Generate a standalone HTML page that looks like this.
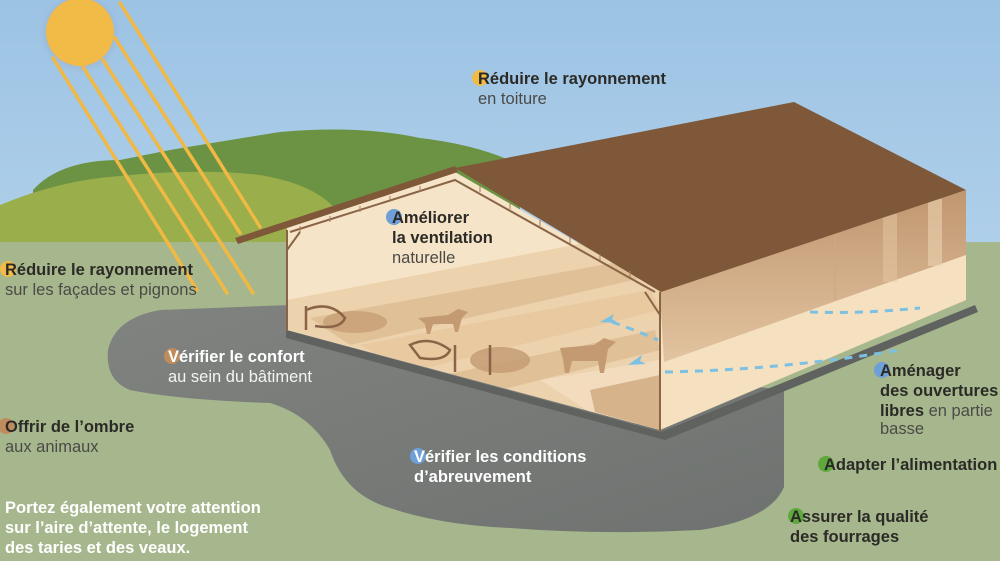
<!DOCTYPE html>
<html><head><meta charset="utf-8"><style>
html,body{margin:0;padding:0;width:1000px;height:561px;overflow:hidden}
svg{display:block}
text{font-family:"Liberation Sans",sans-serif;font-size:16.5px}
.b{font-weight:bold;fill:#2b2a26}
.n{fill:#4a4a46}
.w{font-weight:bold;fill:#fff}
.wn{fill:#f4f4f0}
</style></head><body>
<svg width="1000" height="561" viewBox="0 0 1000 561" xmlns="http://www.w3.org/2000/svg">
<defs>
<linearGradient id="sky" x1="0" y1="0" x2="0" y2="1"><stop offset="0" stop-color="#9cc3e4"/><stop offset="1" stop-color="#c7dff0"/></linearGradient>
<radialGradient id="glow"><stop offset="0.6" stop-color="#8a8aa8" stop-opacity="0.6"/><stop offset="1" stop-color="#a0b8d8" stop-opacity="0"/></radialGradient>
<linearGradient id="side" x1="0" y1="0" x2="0" y2="1"><stop offset="0" stop-color="#c09670"/><stop offset="1" stop-color="#e2c4a0"/></linearGradient>
<linearGradient id="blob" x1="0" y1="0" x2="1" y2="1"><stop offset="0" stop-color="#80837f"/><stop offset="1" stop-color="#6f7270"/></linearGradient>
<clipPath id="gab"><path d="M287,228 L455,172 L660,290 L660,430 L287,330 Z"/></clipPath>
</defs>
<rect width="1000" height="561" fill="url(#sky)"/>
<rect y="242" width="1000" height="319" fill="#a7b78d"/>
<!-- hills -->
<path d="M33,242 L33,190 Q60,160 120,160 L170,150 Q230,140 280,132 Q360,125 420,138 Q480,145 520,165 L520,242 Z" fill="#6b9343"/>
<path d="M0,242 L0,205 Q60,180 120,176 Q200,168 260,175 Q320,185 340,215 L345,242 Z" fill="#9aae4b"/>
<!-- blob -->
<path d="M290,305 L160,310 Q115,318 108,350 Q105,380 130,390 Q180,400 270,403 Q310,415 330,450 Q345,495 390,508 Q440,525 510,528 Q600,535 700,530 Q770,520 784,487 L784,390 L700,380 L300,305 Z" fill="url(#blob)"/>
<!-- sun -->
<circle cx="80" cy="33" r="42" fill="url(#glow)"/>
<circle cx="80" cy="32" r="34" fill="#f2bb48"/>
<g stroke="#f1b843" stroke-width="3.5" stroke-linecap="round">
<line x1="53" y1="58" x2="197" y2="290"/>
<line x1="83" y1="67" x2="227" y2="293"/>
<line x1="103" y1="60" x2="253" y2="293"/>
<line x1="115" y1="38" x2="240" y2="233"/>
<line x1="120" y1="3" x2="260" y2="227"/>
</g>
<!-- barn shadow base -->
<path d="M286,330 L661,432 L975,305 L978,312 L665,440 L286,338 Z" fill="#5f625f"/>
<!-- gable interior -->
<path d="M287,228 L455,172 L660,290 L660,430 L287,330 Z" fill="#f6e4c8"/>
<g clip-path="url(#gab)">
<path d="M287,300 L600,240 L660,270 L660,430 L287,330 Z" fill="#ecd2ad"/>
<path d="M310,318 L640,258 L655,275 L350,345 Z" fill="#dcbb91" opacity="0.8"/>
<path d="M360,345 L650,290 L660,310 L410,372 Z" fill="#e8c9a0"/>
<path d="M430,378 L655,330 L660,350 L480,395 Z" fill="#dcbb91" opacity="0.8"/>
<path d="M540,380 L660,360 L660,430 L590,412 Z" fill="#f3dcbd"/>
<path d="M590,390 L660,375 L660,430 L595,412 Z" fill="#d6b38a"/>
</g>
<!-- side wall -->
<path d="M660,292 L966,190 L966,300 L660,430 Z" fill="#f5e0c0"/>
<path d="M660,292 L966,190 L966,255 L664,362 Z" fill="url(#side)"/>
<path d="M835,233 L835,300" stroke="#cfa981" stroke-width="2" opacity="0.6"/>
<path d="M890,214 L890,282" stroke="#e6c9a4" stroke-width="14" opacity="0.5"/>
<path d="M935,199 L935,266" stroke="#ecd3b2" stroke-width="14" opacity="0.6"/>
<!-- roof -->
<path d="M455,168 L794,102 L966,190 L661,292 Z" fill="#7e5838"/>
<path d="M235,238 L455,166 L458,172 L238,244 Z" fill="#7e5838"/>
<!-- frame -->
<g stroke="#8a6446" stroke-width="2" fill="none">
<path d="M287,230 L287,330"/><path d="M660,292 L660,432"/>
<path d="M290,232 L455,180 L655,292"/>
<path d="M287,250 L300,232"/><path d="M660,315 L645,292"/>
</g>
<g stroke="#a57c5a" stroke-width="1">
<path d="M300,226 l0,6 M330,216 l0,6 M360,206 l0,6 M390,196 l0,6 M420,186 l0,6 M480,186 l0,6 M510,203 l0,6 M540,220 l0,6 M570,237 l0,6 M600,254 l0,6 M630,271 l0,6"/>
</g>
<!-- cows -->
<g fill="#c39a72">
<ellipse cx="355" cy="322" rx="32" ry="11" opacity="0.7"/>
<path d="M418,318 l30,-3 l10,-6 l10,3 l-6,6 l-4,14 l-3,0 l-2,-8 l-20,0 l-3,10 l-3,0 l-2,-10 Z"/>
<ellipse cx="500" cy="360" rx="30" ry="13" opacity="0.8"/>
<path d="M560,348 l34,-3 l10,-7 l12,4 l-8,7 l-4,24 l-4,0 l-2,-12 l-26,0 l-3,12 l-4,0 l-2,-14 Z"/>
</g>
<g stroke="#8a6446" stroke-width="2.5" fill="none">
<path d="M306,306 L306,330 M306,310 Q330,300 345,318 Q340,330 315,326"/>
<path d="M455,345 L455,372 M490,345 L490,375 M410,345 Q430,335 450,350 Q445,362 420,358 Z"/>
</g>
<!-- airflow -->
<g stroke="#7cc0e2" stroke-width="3" stroke-dasharray="8,7" fill="none">
<path d="M612,322 Q640,332 658,340"/>
<path d="M665,372 Q780,370 900,350"/>
<path d="M810,312 Q860,314 920,308"/>
</g>
<path d="M600,322 l14,-8 l-2,5 l6,4 Z" fill="#7cc0e2"/>
<path d="M628,365 l14,-10 l-2,6 l6,3 Z" fill="#7cc0e2"/>
<!-- dots -->
<circle cx="480" cy="78" r="8" fill="#f2bb48"/>
<circle cx="8" cy="269" r="8" fill="#f2bb48"/>
<circle cx="394" cy="217" r="8" fill="#6e9fd6"/>
<circle cx="172" cy="356" r="8" fill="#c08c5e"/>
<circle cx="6" cy="426" r="8" fill="#c08c5e"/>
<circle cx="418" cy="456" r="8" fill="#6e9fd6"/>
<circle cx="882" cy="370" r="8" fill="#6e9fd6"/>
<circle cx="826" cy="464" r="8" fill="#5ea83e"/>
<circle cx="796" cy="516" r="8" fill="#5ea83e"/>
<!-- labels -->
<text x="478" y="84" class="b">Réduire le rayonnement</text>
<text x="478" y="104" class="n">en toiture</text>
<text x="5" y="275" class="b">Réduire le rayonnement</text>
<text x="5" y="295" class="n">sur les façades et pignons</text>
<text x="392" y="223" class="b">Améliorer</text>
<text x="392" y="243" class="b">la ventilation</text>
<text x="392" y="263" class="n">naturelle</text>
<text x="168" y="362" class="w">Vérifier le confort</text>
<text x="168" y="382" class="wn">au sein du bâtiment</text>
<text x="5" y="432" class="b">Offrir de l’ombre</text>
<text x="5" y="452" class="n">aux animaux</text>
<text x="414" y="462" class="w">Vérifier les conditions</text>
<text x="414" y="482" class="w">d’abreuvement</text>
<text x="880" y="376" class="b">Aménager</text>
<text x="880" y="396" class="b">des ouvertures</text>
<text x="880" y="416" class="b">libres <tspan font-weight="normal" fill="#4a4a46">en partie</tspan></text>
<text x="880" y="434" class="n">basse</text>
<text x="824" y="470" class="b">Adapter l’alimentation</text>
<text x="790" y="522" class="b">Assurer la qualité</text>
<text x="790" y="542" class="b">des fourrages</text>
<text x="5" y="513" class="w" font-size="15">Portez également votre attention</text>
<text x="5" y="533" class="w" font-size="15">sur l’aire d’attente, le logement</text>
<text x="5" y="553" class="w" font-size="15">des taries et des veaux.</text>
</svg>
</body></html>
